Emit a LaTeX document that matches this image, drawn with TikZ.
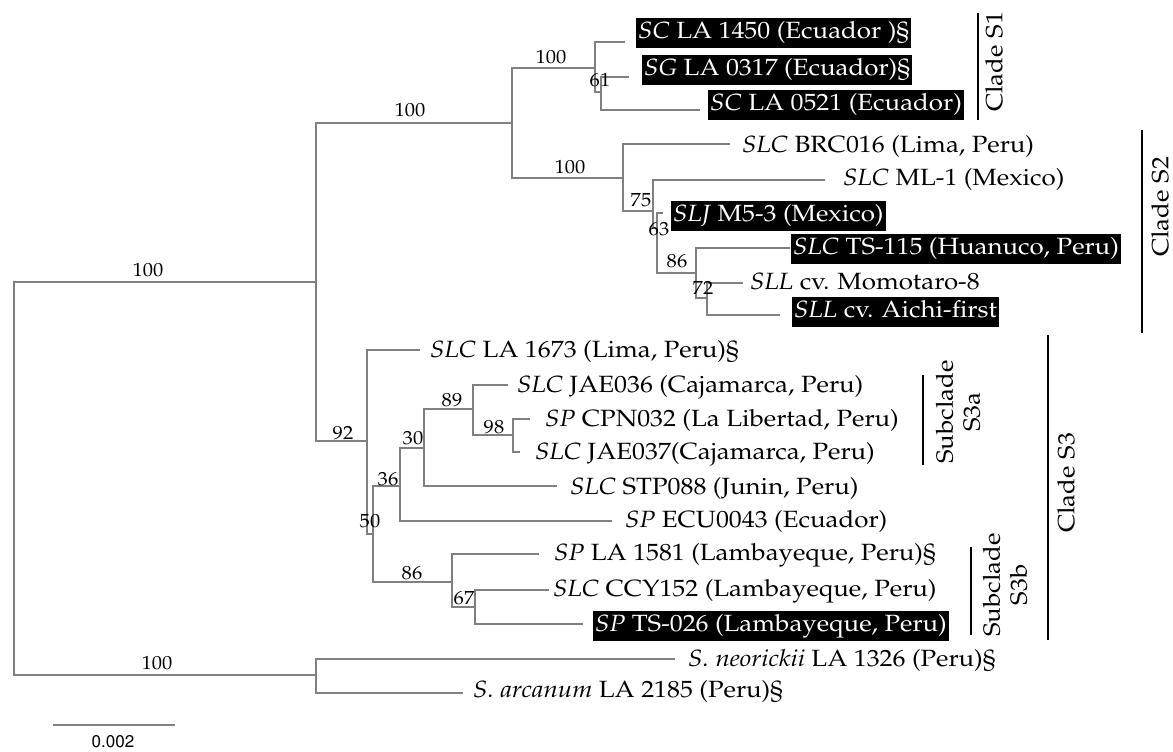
\documentclass[tikz,border=0pt]{standalone}
\usepackage[T1]{fontenc}
\usepackage{graphicx}
\renewcommand{\rmdefault}{ppl}
\definecolor{treegray}{RGB}{128,128,128}
\newcommand\sx[1]{\scalebox{1.1}[1]{#1}}
\newcommand\sy[1]{\scalebox{1.08}[1]{#1}}
\tikzset{
  br/.style={draw=treegray, line width=1.4pt},
  taxon/.style={anchor=west, inner xsep=2pt, inner ysep=3pt, text height=17pt, text depth=6.5pt, font=\fontsize{23.5}{27}\selectfont},
  hl/.style={taxon, fill=black, text=white},
  sup/.style={inner sep=0pt, font=\fontsize{19}{22}\selectfont},
  cbar/.style={draw=black, line width=2.2pt},
  clab/.style={rotate=90, inner sep=0pt, align=center, font=\fontsize{23.5}{27}\selectfont},
}
\begin{document}
\begin{tikzpicture}[x=1pt,y=-1pt]
\useasboundingbox (0,0) rectangle (1173,752);
% internal nodes
\coordinate (R) at (14,478);
\coordinate (A) at (316,282);
\coordinate (B) at (512,123);
\coordinate (C) at (595,68);
\coordinate (D) at (601,92);
\coordinate (E) at (623,178);
\coordinate (F) at (653,211);
\coordinate (G) at (657,228);
\coordinate (H) at (696,273);
\coordinate (I) at (707,298);
\coordinate (J) at (367,441);
\coordinate (K) at (373,534);
\coordinate (L) at (400,486);
\coordinate (M) at (424,448);
\coordinate (N) at (473,409);
\coordinate (O) at (513,435);
\coordinate (P) at (452,582);
\coordinate (Q) at (475,607);
\coordinate (S) at (316,675);
% leaf ends
\coordinate (e1) at (625,42);
\coordinate (e2) at (629,77);
\coordinate (e3) at (700,110);
\coordinate (e4) at (730,144);
\coordinate (e5) at (825,180);
\coordinate (e6) at (663,213);
\coordinate (e7) at (790,248);
\coordinate (e8) at (743,283);
\coordinate (e9) at (780,315);
\coordinate (e10) at (420,350);
\coordinate (e11) at (508,385);
\coordinate (e12) at (530,419);
\coordinate (e13) at (520,452);
\coordinate (e14) at (557,486);
\coordinate (e15) at (612,521);
\coordinate (e16) at (539,554);
\coordinate (e17) at (549,590);
\coordinate (e18) at (583,624);
\coordinate (e19) at (675,659);
\coordinate (e20) at (463,693);
% branches
\draw[br] (R) |- (A);  \draw[br] (R) |- (S);
\draw[br] (A) |- (B);  \draw[br] (A) |- (J);
\draw[br] (B) |- (C);  \draw[br] (B) |- (E);
\draw[br] (C) |- (e1); \draw[br] (C) |- (D);
\draw[br] (D) |- (e2); \draw[br] (D) |- (e3);
\draw[br] (E) |- (e4); \draw[br] (E) |- (F);
\draw[br] (F) |- (e5); \draw[br] (F) |- (G);
\draw[br] (G) |- (e6); \draw[br] (G) |- (H);
\draw[br] (H) |- (e7); \draw[br] (H) |- (I);
\draw[br] (I) |- (e8); \draw[br] (I) |- (e9);
\draw[br] (J) |- (e10); \draw[br] (J) |- (K);
\draw[br] (K) |- (L); \draw[br] (K) |- (P);
\draw[br] (L) |- (M); \draw[br] (L) |- (e15);
\draw[br] (M) |- (N); \draw[br] (M) |- (e14);
\draw[br] (N) |- (e11); \draw[br] (N) |- (O);
\draw[br] (O) |- (e12); \draw[br] (O) |- (e13);
\draw[br] (P) |- (e16); \draw[br] (P) |- (Q);
\draw[br] (Q) |- (e17); \draw[br] (Q) |- (e18);
\draw[br] (S) |- (e19); \draw[br] (S) |- (e20);
% taxa
\node[hl] (t1) at (636,33) {\sx{\textit{SC} LA 1450 (Ecuador )\S}};
\node[hl] (t2) at (642,70) {\sx{\textit{SG} LA 0317 (Ecuador)\S}};
\node[hl] (t3) at (708,105) {\sx{\textit{SC} LA 0521 (Ecuador)}};
\node[taxon] (t4) at (740,147) {\sx{\textit{SLC} BRC016 (Lima, Peru)}};
\node[taxon] (t5) at (841,180) {\sx{\textit{SLC} ML-1 (Mexico)}};
\node[hl] (t6) at (671,216) {\sx{\textit{SLJ} M5-3 (Mexico)}};
\node[hl] (t7) at (791,249) {\sx{\textit{SLC} TS-115 (Huanuco, Peru)}};
\node[taxon] (t8) at (748,284) {\sx{\textit{SLL} cv. Momotaro-8}};
\node[hl] (t9) at (792,312) {\sx{\textit{SLL} cv. Aichi-first}};
\node[taxon] (t10) at (428,352) {\sx{\textit{SLC} LA 1673 (Lima, Peru)\S}};
\node[taxon] (t11) at (515,387) {\sx{\textit{SLC} JAE036 (Cajamarca, Peru)}};
\node[taxon] (t12) at (543,421) {\sx{\textit{SP} CPN032 (La Libertad, Peru)}};
\node[taxon] (t13) at (533,454) {\sx{\textit{SLC} JAE037(Cajamarca, Peru)}};
\node[taxon] (t14) at (568,489) {\sx{\textit{SLC} STP088 (Junin, Peru)}};
\node[taxon] (t15) at (623,522) {\sx{\textit{SP} ECU0043 (Ecuador)}};
\node[taxon] (t16) at (552,555) {\sx{\textit{SP} LA 1581 (Lambayeque, Peru)\S}};
\node[taxon] (t17) at (551,591) {\sx{\textit{SLC} CCY152 (Lambayeque, Peru)}};
\node[hl] (t18) at (593,626) {\sx{\textit{SP} TS-026 (Lambayeque, Peru)}};
\node[taxon] (t19) at (686,661) {\sx{\textit{S. neorickii} LA 1326 (Peru)\S}};
\node[taxon] (t20) at (471,692) {\sx{\textit{S. arcanum} LA 2185 (Peru)\S}};
% support values
\node[sup] (sR1) at (148,270) {\sy{100}};
\node[sup] (sR2) at (157,663) {\sy{100}};
\node[sup] (sB) at (410,110) {\sy{100}};
\node[sup] (sC) at (551,57) {\sy{100}};
\node[sup] (sD) at (600,80) {\sy{61}};
\node[sup] (sE) at (570,167) {\sy{100}};
\node[sup] (sF) at (641,200) {\sy{75}};
\node[sup] (sG) at (659,229) {\sy{63}};
\node[sup] (sH) at (677,261) {\sy{86}};
\node[sup] (sI) at (703,288) {\sy{72}};
\node[sup] (sJ) at (343,433) {\sy{92}};
\node[sup] (sN) at (452,400) {\sy{89}};
\node[sup] (sO) at (494,427) {\sy{98}};
\node[sup] (sM) at (413,438) {\sy{30}};
\node[sup] (sL) at (388,479) {\sy{36}};
\node[sup] (sK) at (370,521) {\sy{50}};
\node[sup] (sP) at (412,573) {\sy{86}};
\node[sup] (sQ) at (464,598) {\sy{67}};
% clade bars
\coordinate (c1a) at (978,13);  \coordinate (c1b) at (978,120);
\coordinate (c2a) at (1142,130); \coordinate (c2b) at (1142,333);
\coordinate (c3a) at (1048,335); \coordinate (c3b) at (1048,640);
\coordinate (c4a) at (923,375);  \coordinate (c4b) at (923,465);
\coordinate (c5a) at (971,547);  \coordinate (c5b) at (971,635);
\draw[cbar] (c1a) -- (c1b);
\draw[cbar] (c2a) -- (c2b);
\draw[cbar] (c3a) -- (c3b);
\draw[cbar] (c4a) -- (c4b);
\draw[cbar] (c5a) -- (c5b);
\node[clab] (L1) at (994,62) {\sx{Clade S1}};
\node[clab] (L2) at (1160,207) {\sx{Clade S2}};
\node[clab] (L3) at (1066,483) {\sx{Clade S3}};
\node[clab] (L4) at (958,412) {\sx{Subclade}\\\sx{S3a}};
\node[clab] (L5) at (1005,585) {\sx{Subclade}\\\sx{S3b}};
% scale bar
\coordinate (sb1) at (53,725); \coordinate (sb2) at (175,725);
\draw[br] (sb1) -- (sb2);
\node[inner sep=0pt, font=\fontfamily{phv}\fontsize{17}{20}\selectfont] (sbl) at (113,742) {0.002};
\end{tikzpicture}
\end{document}
